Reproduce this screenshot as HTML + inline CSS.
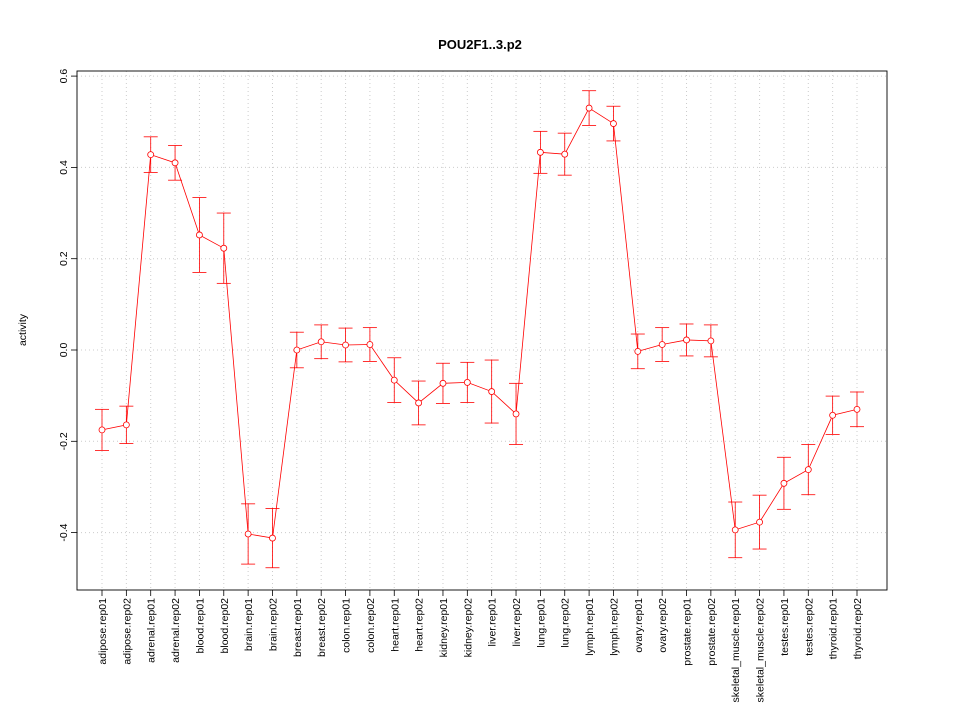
<!DOCTYPE html>
<html><head><meta charset="utf-8"><style>body{margin:0;background:#fff}svg{font-family:"Liberation Sans",sans-serif}</style></head>
<body>
<svg id="chart" width="960" height="720" xmlns="http://www.w3.org/2000/svg"></svg>
<script>
const categories=["adipose.rep01","adipose.rep02","adrenal.rep01","adrenal.rep02","blood.rep01","blood.rep02","brain.rep01","brain.rep02","breast.rep01","breast.rep02","colon.rep01","colon.rep02","heart.rep01","heart.rep02","kidney.rep01","kidney.rep02","liver.rep01","liver.rep02","lung.rep01","lung.rep02","lymph.rep01","lymph.rep02","ovary.rep01","ovary.rep02","prostate.rep01","prostate.rep02","skeletal_muscle.rep01","skeletal_muscle.rep02","testes.rep01","testes.rep02","thyroid.rep01","thyroid.rep02"];
const values=[-0.175,-0.164,0.428,0.41,0.252,0.223,-0.403,-0.412,0.0,0.018,0.011,0.012,-0.066,-0.116,-0.073,-0.071,-0.091,-0.14,0.433,0.429,0.53,0.496,-0.003,0.012,0.022,0.02,-0.394,-0.377,-0.292,-0.262,-0.143,-0.13];
const errors=[0.045,0.041,0.039,0.038,0.082,0.077,0.066,0.065,0.039,0.037,0.037,0.037,0.049,0.048,0.044,0.044,0.069,0.067,0.046,0.046,0.038,0.038,0.038,0.037,0.035,0.035,0.061,0.059,0.057,0.055,0.042,0.038];
const yTicks=[-0.4,-0.2,0.0,0.2,0.4,0.6];
const yTickLabels=["-0.4","-0.2","0.0","0.2","0.4","0.6"];
const svg=document.getElementById('chart');const NS="http://www.w3.org/2000/svg";
const L=77,R=887,T=71,B=590;
const x=i=>102+i*(857-102)/(categories.length-1);
const y=v=>350-v*456.5;
function mk(t,a,p){const e=document.createElementNS(NS,t);for(const k in a)e.setAttribute(k,a[k]);(p||svg).appendChild(e);return e;}
const title=mk('text',{x:480,y:49,'text-anchor':'middle','font-size':13,'font-weight':'bold'});title.textContent="POU2F1..3.p2";


categories.forEach((c,i)=>{const g=mk('line',{x1:x(i),x2:x(i),y1:T,y2:B,stroke:'#ccc','stroke-dasharray':'1,3'});


mk('line',{x1:x(i),x2:x(i),y1:B,y2:B+6,stroke:'#000','stroke-width':0.8});
const t=mk('text',{transform:`translate(${x(i)+4},598) rotate(-90)`,'text-anchor':'end','font-size':10.5});t.textContent=c;

});
yTicks.forEach((v,i)=>{const g=mk('line',{x1:L,x2:R,y1:y(v),y2:y(v),stroke:'#ccc','stroke-dasharray':'1,3'});


mk('line',{x1:L-6,x2:L,y1:y(v),y2:y(v),stroke:'#000','stroke-width':0.8});
const t=mk('text',{transform:`translate(${L-10},${y(v)}) rotate(-90)`,'text-anchor':'middle','font-size':10.5});t.textContent=yTickLabels[i];

});
const yl=mk('text',{transform:'translate(26,330) rotate(-90)','text-anchor':'middle','font-size':10.5});yl.textContent="activity";


const frame=mk('rect',{x:L,y:T,width:R-L,height:B-T,fill:'none',stroke:'#000','stroke-width':0.9});


const line=mk('polyline',{points:values.map((v,i)=>x(i)+','+y(v)).join(' '),fill:'none',stroke:'#f00','stroke-width':0.8});


values.forEach((v,i)=>{const g=mk('g',{stroke:'#f00',fill:'none','stroke-width':0.8});


const hi=y(v+errors[i]),lo=y(v-errors[i]);
mk('line',{x1:x(i),x2:x(i),y1:hi,y2:lo},g);
mk('line',{x1:x(i)-7,x2:x(i)+7,y1:hi,y2:hi},g);
mk('line',{x1:x(i)-7,x2:x(i)+7,y1:lo,y2:lo},g);
const c=mk('circle',{cx:x(i),cy:y(v),r:3,fill:'#fff',stroke:'#f00','stroke-width':0.8});

});
</script>
</body></html>
